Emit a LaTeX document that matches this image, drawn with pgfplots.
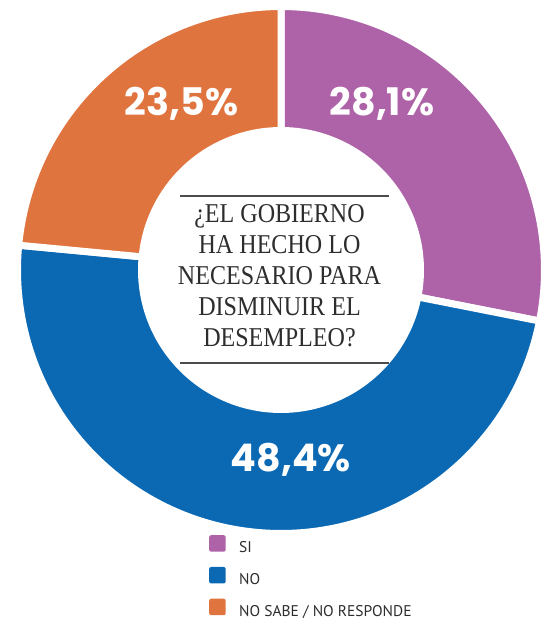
\documentclass[border=0pt]{standalone}
\usepackage{fontspec}
\usepackage{pgfplots}
\pgfplotsset{compat=1.18}
\newfontfamily\qfont[FakeStretch=0.885]{Liberation Serif}
\newfontfamily\numfont{Poppins}
\newfontfamily\legfont{PT Sans}
\definecolor{siC}{RGB}{174,99,168}
\definecolor{noC}{RGB}{11,105,180}
\definecolor{nsC}{RGB}{224,116,62}
\definecolor{txtC}{RGB}{45,45,45}
% data (percent)
\def\vSI{28.1}
\def\vNO{48.4}
\def\vNS{23.5}
\pgfmathsetmacro\aA{90-\vSI*3.6}
\pgfmathsetmacro\aB{\aA-\vNO*3.6}
\pgfmathsetmacro\aC{\aB-\vNS*3.6}
\tikzset{qline/.style={font=\qfont\fontsize{27.2}{31}\selectfont, text=txtC, anchor=base, inner sep=0pt},
  pct/.style={font=\numfont\bfseries\fontsize{38}{44}\selectfont, text=white, anchor=base, inner sep=0pt}}
\begin{document}
\begin{tikzpicture}
\begin{axis}[
  scale only axis, width=555pt, height=625pt,
  xmin=0, xmax=555, ymin=0, ymax=625,
  hide axis, clip=false,
  legend cell align=left,
  legend style={at={(axis cs:209,90)}, anchor=north west, draw=none, fill=none,
    inner sep=0pt, font=\legfont\fontsize{15.5}{18}\selectfont, text=txtC,
    row sep=11pt,
    /tikz/every even column/.append style={column sep=0pt}},
]
\addplot[draw=none, forget plot] coordinates {(0,0) (555,625)};
% SI
\addplot[forget plot, fill=siC, draw=white, line width=7pt, domain=\aA:90, samples=120, variable=\t]
  ({281+263.5*cos(\t)},{355+263.5*sin(\t)}) -- (281,355) -- cycle;
% NO
\addplot[forget plot, fill=noC, draw=white, line width=7pt, domain=\aB:\aA, samples=180, variable=\t]
  ({281+263.5*cos(\t)},{355+263.5*sin(\t)}) -- (281,355) -- cycle;
% NO SABE
\addplot[forget plot, fill=nsC, draw=white, line width=7pt, domain=\aC:\aB, samples=100, variable=\t]
  ({281+263.5*cos(\t)},{355+263.5*sin(\t)}) -- (281,355) -- cycle;
% hole
\addplot[forget plot, fill=white, draw=none, domain=0:360, samples=200, variable=\t]
  ({281+143*cos(\t)},{355+143*sin(\t)}) -- cycle;
% rules
\addplot[forget plot, draw=black!70, line width=1.2pt] coordinates {(180,429) (389,429)};
\addplot[forget plot, draw=black!70, line width=1.2pt] coordinates {(180,262) (389,262)};
% legend
\addlegendimage{legend image code/.code={\fill[siC, draw=none, rounded corners=2pt] (0pt,-4pt) rectangle (16.5pt,12.5pt); \path[draw=none, fill=none] (0pt,0pt) -- (28pt,0pt);}}
\addlegendentry{SI}
\addlegendimage{legend image code/.code={\fill[noC, draw=none, rounded corners=2pt] (0pt,-4pt) rectangle (16.5pt,12.5pt); \path[draw=none, fill=none] (0pt,0pt) -- (28pt,0pt);}}
\addlegendentry{NO}
\addlegendimage{legend image code/.code={\fill[nsC, draw=none, rounded corners=2pt] (0pt,-4pt) rectangle (16.5pt,12.5pt); \path[draw=none, fill=none] (0pt,0pt) -- (28pt,0pt);}}
\addlegendentry{NO SABE / NO RESPONDE}
% labels
\node[pct] at (axis cs:382,509) {28,1\%};
\node[pct] at (axis cs:181.5,509) {23,5\%};
\node[pct] at (axis cs:291,153) {48,4\%};
% question
\node[qline] at (axis cs:279.5,402) {¿EL GOBIERNO};
\node[qline] at (axis cs:279.5,371) {HA HECHO LO};
\node[qline] at (axis cs:279.5,340) {NECESARIO PARA};
\node[qline] at (axis cs:279.5,309) {DISMINUIR EL};
\node[qline] at (axis cs:279.5,278) {DESEMPLEO?};
\end{axis}
\end{tikzpicture}
\end{document}
